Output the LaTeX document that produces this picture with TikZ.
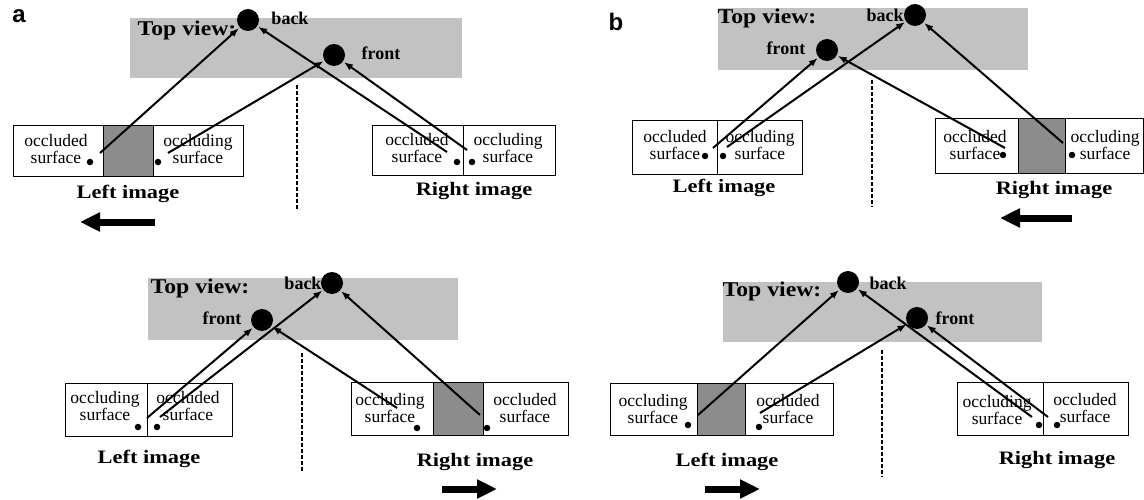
\documentclass[tikz,border=0pt]{standalone}
\usepackage{fontspec}
\setmainfont{Liberation Serif}
\newfontfamily\panelfont{Liberation Sans}
\usetikzlibrary{arrows.meta}
\begin{document}
\begin{tikzpicture}[x=1pt,y=-1pt,
  topbox/.style={fill=black!24, draw=none, inner sep=0, anchor=north west},
  cell/.style={draw, line width=1.4pt, fill=white, inner sep=0, anchor=north west},
  shadecell/.style={cell, fill=black!45},
  bigdot/.style={circle, fill=black, inner sep=0, minimum size=22pt},
  smalldot/.style={circle, fill=black, inner sep=0, minimum size=6.5pt},
  celltext/.style={font=\fontsize{17.5}{16.5}\selectfont, align=center, inner sep=0},
  caption/.style={font=\fontsize{19}{20}\selectfont\bfseries, inner sep=0},
  tvtext/.style={font=\fontsize{21}{22}\selectfont\bfseries, inner sep=0},
  dotlabel/.style={font=\fontsize{18}{18}\selectfont\bfseries, inner sep=0},
  panellabel/.style={font=\fontsize{24}{24}\selectfont\panelfont\bfseries, inner sep=0},
  ray/.style={line width=2pt, -{Latex[length=9pt,width=7pt]}, shorten >=1pt},
  divider/.style={line width=1.8pt, dash pattern=on 4pt off 2pt},
  motion/.style={line width=7pt, -{Triangle[length=20pt,width=18pt]}},
]
\useasboundingbox (0,0) rectangle (1144,500);
\newcommand{\capt}[1]{\scalebox{1.18}[1]{#1}}
\newcommand{\tvlab}{\scalebox{1.13}[1]{Top view:}}

% ---------------- panel a, upper row ----------------
\node[panellabel] (a-lab) at (19,16) {a};
\node[topbox, minimum width=332pt, minimum height=60pt] (aT-tv) at (130,18) {};
\node[tvtext] (aT-tvl) at (187,30) {\tvlab};
\node[dotlabel] (aT-backl) at (290,18) {back};
\node[dotlabel] (aT-frontl) at (381,53) {front};
\draw[divider] (297,85) -- (297,210);
\node[cell, minimum width=90pt, minimum height=51pt] (aT-L1) at (13,125) {};
\node[shadecell, minimum width=50pt, minimum height=51pt] (aT-L2) at (103,125) {};
\node[cell, minimum width=90pt, minimum height=51pt] (aT-L3) at (153,125) {};
\node[celltext] (aT-L1t) at (56,149) {occluded\\surface};
\node[celltext] (aT-L3t) at (198,149) {occluding\\surface};
\node[smalldot] (aT-Ld1) at (90,162) {};
\node[smalldot] (aT-Ld2) at (158,162) {};
\node[caption] (aT-Lc) at (128,194) {\capt{Left image}};
\draw[motion] (155,222) -- (80,222);
\node[cell, minimum width=91pt, minimum height=50pt] (aT-R1) at (372,125) {};
\node[cell, minimum width=92pt, minimum height=50pt] (aT-R2) at (463,125) {};
\node[celltext] (aT-R1t) at (417,148) {occluded\\surface};
\node[celltext] (aT-R2t) at (508,148) {occluding\\surface};
\node[smalldot] (aT-Rd1) at (457,162) {};
\node[smalldot] (aT-Rd2) at (472,162) {};
\node[caption] (aT-Rc) at (474,191) {\capt{Right image}};
\node[bigdot] (aT-back) at (248,20) {};
\node[bigdot] (aT-front) at (334,55) {};
\coordinate (aT-s1) at (100,153);
\coordinate (aT-s2) at (168,153);
\coordinate (aT-s3) at (447,152);
\coordinate (aT-s4) at (467,150);
\draw[ray] (aT-s1) -- (aT-back);
\draw[ray] (aT-s2) -- (aT-front);
\draw[ray] (aT-s3) -- (aT-back);
\draw[ray] (aT-s4) -- (aT-front);

% ---------------- panel b, upper row ----------------
\node[panellabel] (b-lab) at (616,22) {b};
\node[topbox, minimum width=310pt, minimum height=62pt] (bT-tv) at (718,8) {};
\node[tvtext] (bT-tvl) at (767,18) {\tvlab};
\node[dotlabel] (bT-frontl) at (786,48) {front};
\node[dotlabel] (bT-backl) at (885,15) {back};
\draw[divider] (872,80) -- (872,207);
\node[cell, minimum width=85pt, minimum height=54pt] (bT-L1) at (632,120) {};
\node[cell, minimum width=85pt, minimum height=54pt] (bT-L2) at (717,120) {};
\node[celltext] (bT-L1t) at (675,145) {occluded\\surface};
\node[celltext] (bT-L2t) at (760,145) {occluding\\surface};
\node[smalldot] (bT-Ld1) at (705,156) {};
\node[smalldot] (bT-Ld2) at (723,156) {};
\node[caption] (bT-Lc) at (724,188) {\capt{Left image}};
\node[cell, minimum width=83pt, minimum height=55pt] (bT-R1) at (935,118) {};
\node[shadecell, minimum width=47pt, minimum height=55pt] (bT-R2) at (1018,118) {};
\node[cell, minimum width=78pt, minimum height=55pt] (bT-R3) at (1065,118) {};
\node[celltext] (bT-R1t) at (975,145) {occluded\\surface};
\node[celltext] (bT-R3t) at (1105,145) {occluding\\surface};
\node[smalldot] (bT-Rd1) at (1003,155) {};
\node[smalldot] (bT-Rd2) at (1072,155) {};
\node[caption] (bT-Rc) at (1054,190) {\capt{Right image}};
\draw[motion] (1072,218) -- (1000,218);
\node[bigdot] (bT-front) at (827,50) {};
\node[bigdot] (bT-back) at (915,15) {};
\coordinate (bT-s1) at (713,148);
\coordinate (bT-s2) at (727,147);
\coordinate (bT-s3) at (1005,148);
\coordinate (bT-s4) at (1063,143);
\draw[ray] (bT-s1) -- (bT-front);
\draw[ray] (bT-s2) -- (bT-back);
\draw[ray] (bT-s3) -- (bT-front);
\draw[ray] (bT-s4) -- (bT-back);

% ---------------- panel a, lower row ----------------
\node[topbox, minimum width=310pt, minimum height=62pt] (aB-tv) at (148,278) {};
\node[tvtext] (aB-tvl) at (200,288) {\tvlab};
\node[dotlabel] (aB-frontl) at (222,318) {front};
\node[dotlabel] (aB-backl) at (303,283) {back};
\draw[divider] (302,353) -- (302,472);
\node[cell, minimum width=82pt, minimum height=53pt] (aB-L1) at (65,383) {};
\node[cell, minimum width=85pt, minimum height=53pt] (aB-L2) at (147,383) {};
\node[celltext] (aB-L1t) at (105,406) {occluding\\surface};
\node[celltext] (aB-L2t) at (188,406) {occluded\\surface};
\node[smalldot] (aB-Ld1) at (138,427) {};
\node[smalldot] (aB-Ld2) at (157,427) {};
\node[caption] (aB-Lc) at (149,459) {\capt{Left image}};
\node[cell, minimum width=82pt, minimum height=53pt] (aB-R1) at (351,382) {};
\node[shadecell, minimum width=50pt, minimum height=53pt] (aB-R2) at (433,382) {};
\node[cell, minimum width=85pt, minimum height=53pt] (aB-R3) at (483,382) {};
\node[celltext] (aB-R1t) at (390,408) {occluding\\surface};
\node[celltext] (aB-R3t) at (525,408) {occluded\\surface};
\node[smalldot] (aB-Rd1) at (417,428) {};
\node[smalldot] (aB-Rd2) at (487,428) {};
\node[caption] (aB-Rc) at (475,462) {\capt{Right image}};
\draw[motion] (442,489) -- (497,489);
\node[bigdot] (aB-front) at (262,320) {};
\node[bigdot] (aB-back) at (332,283) {};
\coordinate (aB-s1) at (147,418);
\coordinate (aB-s2) at (160,417);
\coordinate (aB-s3) at (397,408);
\coordinate (aB-s4) at (480,415);
\draw[ray] (aB-s1) -- (aB-front);
\draw[ray] (aB-s2) -- (aB-back);
\draw[ray] (aB-s3) -- (aB-front);
\draw[ray] (aB-s4) -- (aB-back);

% ---------------- panel b, lower row ----------------
\node[topbox, minimum width=319pt, minimum height=60pt] (bB-tv) at (723,282) {};
\node[tvtext] (bB-tvl) at (772,291) {\tvlab};
\node[dotlabel] (bB-backl) at (888,283) {back};
\node[dotlabel] (bB-frontl) at (955,318) {front};
\draw[divider] (882,350) -- (882,477);
\node[cell, minimum width=87pt, minimum height=52pt] (bB-L1) at (610,383) {};
\node[shadecell, minimum width=48pt, minimum height=52pt] (bB-L2) at (697,383) {};
\node[cell, minimum width=88pt, minimum height=52pt] (bB-L3) at (745,383) {};
\node[celltext] (bB-L1t) at (653,409) {occluding\\surface};
\node[celltext] (bB-L3t) at (788,409) {occluded\\surface};
\node[smalldot] (bB-Ld1) at (688,425) {};
\node[smalldot] (bB-Ld2) at (759,427) {};
\node[caption] (bB-Lc) at (727,462) {\capt{Left image}};
\draw[motion] (705,489) -- (760,489);
\node[cell, minimum width=86pt, minimum height=53pt] (bB-R1) at (957,382) {};
\node[cell, minimum width=85pt, minimum height=53pt] (bB-R2) at (1043,382) {};
\node[celltext] (bB-R1t) at (997,410) {occluding\\surface};
\node[celltext] (bB-R2t) at (1085,408) {occluded\\surface};
\node[smalldot] (bB-Rd1) at (1039,425) {};
\node[smalldot] (bB-Rd2) at (1057,425) {};
\node[caption] (bB-Rc) at (1057,460) {\capt{Right image}};
\node[bigdot] (bB-back) at (848,282) {};
\node[bigdot] (bB-front) at (917,318) {};
\coordinate (bB-s1) at (698,415);
\coordinate (bB-s2) at (760,413);
\coordinate (bB-s3) at (1032,417);
\coordinate (bB-s4) at (1048,417);
\draw[ray] (bB-s1) -- (bB-back);
\draw[ray] (bB-s2) -- (bB-front);
\draw[ray] (bB-s3) -- (bB-back);
\draw[ray] (bB-s4) -- (bB-front);
\end{tikzpicture}
\end{document}
